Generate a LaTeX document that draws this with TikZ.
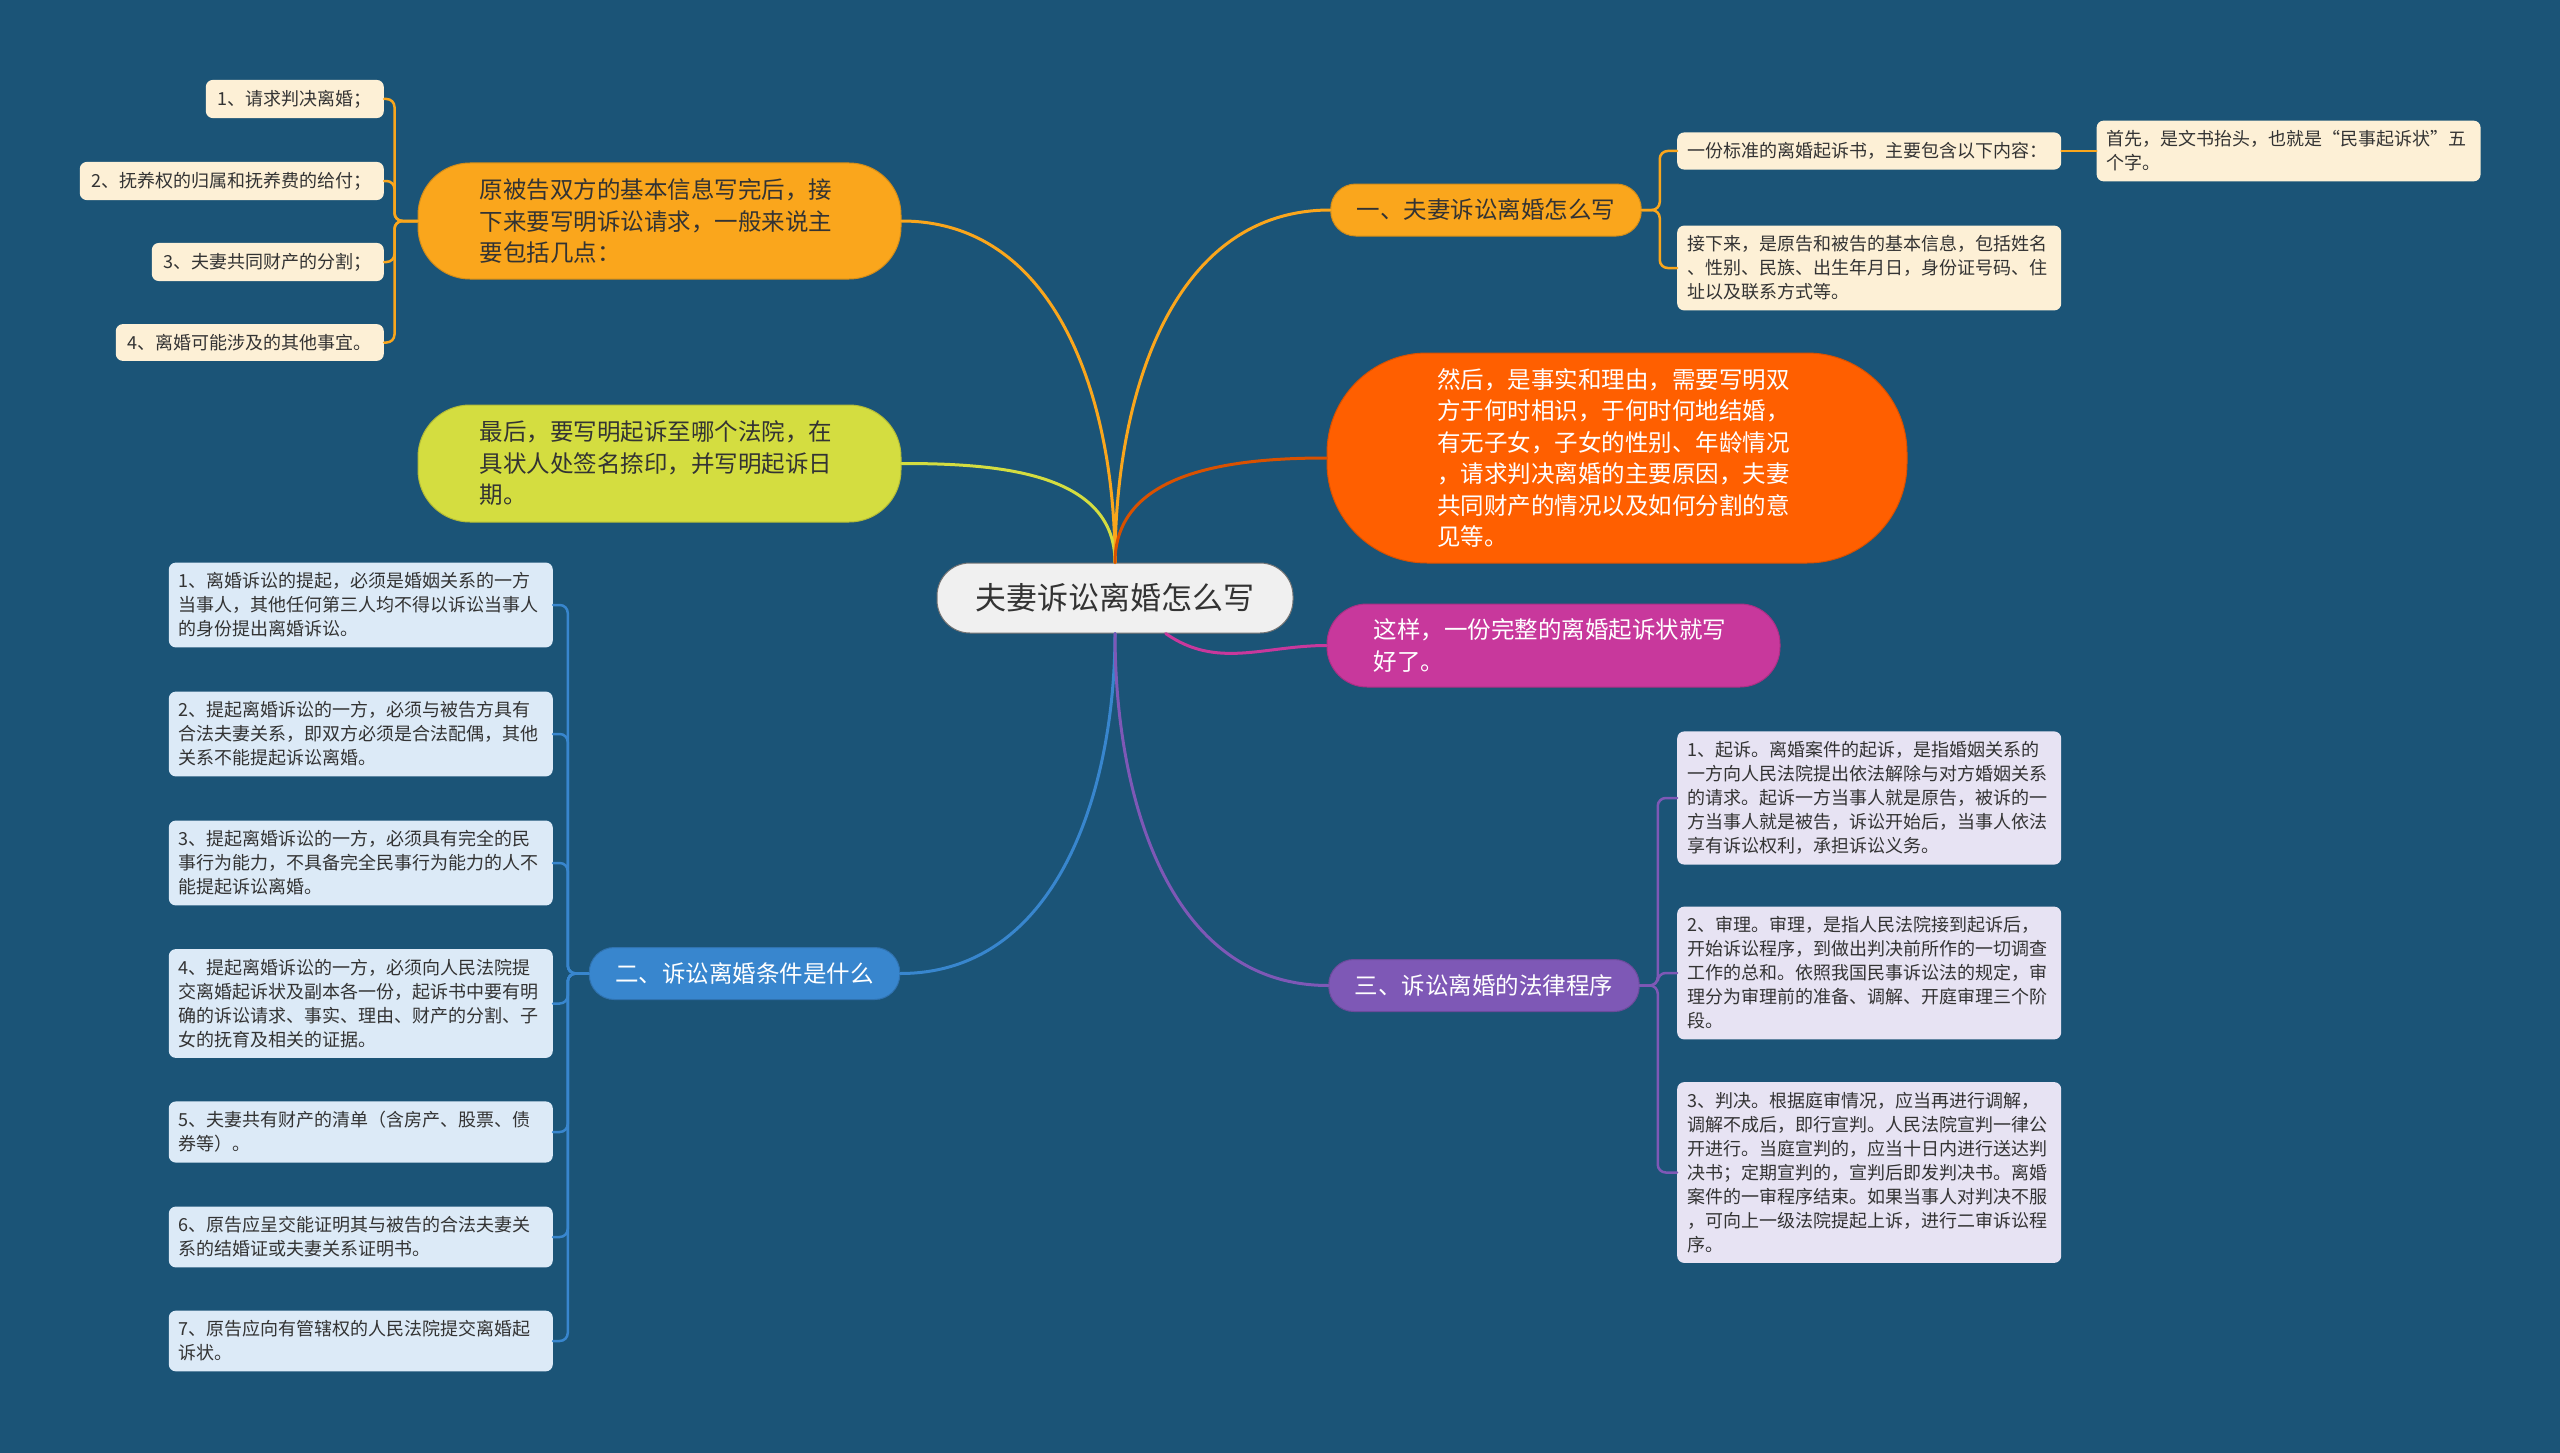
\documentclass[tikz,border=0pt]{standalone}
\usepackage{fontspec}
\setmainfont{Noto Sans CJK SC}
\usetikzlibrary{positioning}

\definecolor{bgblue}{RGB}{27,84,119}
\definecolor{amber}{RGB}{250,166,28}
\definecolor{lime}{RGB}{212,221,64}
\definecolor{flame}{RGB}{255,95,0}
\definecolor{berry}{RGB}{200,56,156}
\definecolor{sky}{RGB}{56,134,206}
\definecolor{grape}{RGB}{126,88,182}
\definecolor{cream}{RGB}{253,240,214}
\definecolor{ice}{RGB}{220,234,247}
\definecolor{lilac}{RGB}{231,227,243}
\definecolor{ink}{RGB}{51,51,51}

\begin{document}
\begin{tikzpicture}[x=1pt,y=-1pt,line cap=round,
		every node/.style={text=ink},
		bubble/.style={fill=#1,draw=#1!85!black,line width=1pt,text width=360pt,align=left,
			font=\fontsize{23.5}{31.5}\selectfont},
		topic/.style={fill=#1,draw=#1!85!black,line width=1pt,rounded corners=25pt,
			minimum height=52pt,inner xsep=26pt,font=\fontsize{23.5}{28}\selectfont},
		leaf/.style={fill=#1,rounded corners=7pt,inner xsep=10pt,inner ysep=10pt,
			font=\fontsize{18}{24}\selectfont},
		link/.style={draw=#1,line width=3pt},
		twig/.style={draw=#1,line width=2.5pt,rounded corners=8pt}]
	\tikzstyle{root}=[fill=black!6,draw=black!55,line width=1pt,rounded corners=33pt,
		minimum width=356pt,minimum height=70pt,font=\fontsize{31}{36}\selectfont]
	\tikzstyle{blocktext}=[text width=364pt,align=left]
	\fill[bgblue] (0,0) rectangle (2560,1453);
	\useasboundingbox (0,0) rectangle (2560,1453);

	\node[root] (C) at (1115,598) {夫妻诉讼离婚怎么写};

	% left side
	\node[bubble=amber,minimum width=483pt,minimum height=116pt,rounded corners=52pt]
		(A) at (659.5,221) {原被告双方的基本信息写完后，接\\下来要写明诉讼请求，一般来说主\\要包括几点：};
	\node[leaf=cream,anchor=east,inner xsep=12pt] (A1) at (384,99) {1、请求判决离婚；};
	\node[leaf=cream,anchor=east,inner xsep=12pt] (A2) at (384,181) {2、抚养权的归属和抚养费的给付；};
	\node[leaf=cream,anchor=east,inner xsep=12pt] (A3) at (384,262) {3、夫妻共同财产的分割；};
	\node[leaf=cream,anchor=east,inner xsep=12pt] (A4) at (384,342.5) {4、离婚可能涉及的其他事宜。};

	\node[bubble=lime,minimum width=483pt,minimum height=117pt,rounded corners=52pt]
		(Y) at (659.5,463.5) {最后，要写明起诉至哪个法院，在\\具状人处签名捺印，并写明起诉日\\期。};

	\node[topic=sky,text=white] (B) at (744.5,973.5) {二、诉讼离婚条件是什么};
	\node[leaf=ice,blocktext,anchor=east] (B1) at (553,605) {1、离婚诉讼的提起，必须是婚姻关系的一方\\当事人，其他任何第三人均不得以诉讼当事人\\的身份提出离婚诉讼。};
	\node[leaf=ice,blocktext,anchor=east] (B2) at (553,734) {2、提起离婚诉讼的一方，必须与被告方具有\\合法夫妻关系，即双方必须是合法配偶，其他\\关系不能提起诉讼离婚。};
	\node[leaf=ice,blocktext,anchor=east] (B3) at (553,863) {3、提起离婚诉讼的一方，必须具有完全的民\\事行为能力，不具备完全民事行为能力的人不\\能提起诉讼离婚。};
	\node[leaf=ice,blocktext,anchor=east] (B4) at (553,1003.5) {4、提起离婚诉讼的一方，必须向人民法院提\\交离婚起诉状及副本各一份，起诉书中要有明\\确的诉讼请求、事实、理由、财产的分割、子\\女的抚育及相关的证据。};
	\node[leaf=ice,blocktext,anchor=east] (B5) at (553,1132) {5、夫妻共有财产的清单（含房产、股票、债\\券等）。};
	\node[leaf=ice,blocktext,anchor=east] (B6) at (553,1237) {6、原告应呈交能证明其与被告的合法夫妻关\\系的结婚证或夫妻关系证明书。};
	\node[leaf=ice,blocktext,anchor=east] (B7) at (553,1341) {7、原告应向有管辖权的人民法院提交离婚起\\诉状。};

	% right side
	\node[topic=amber] (O) at (1486,210) {一、夫妻诉讼离婚怎么写};
	\node[leaf=cream,blocktext,anchor=west] (Oa) at (1677,151) {一份标准的离婚起诉书，主要包含以下内容：};
	\node[leaf=cream,blocktext,anchor=west] (Ob) at (1677,268) {接下来，是原告和被告的基本信息，包括姓名\\、性别、民族、出生年月日，身份证号码、住\\址以及联系方式等。};
	\node[leaf=cream,blocktext,right=35pt of Oa] (Oc) {首先，是文书抬头，也就是“民事起诉状”五\\个字。};

	\node[bubble=flame,text=white,minimum width=580pt,minimum height=210pt,rounded corners=100pt]
		(Rd) at (1617,458) {然后，是事实和理由，需要写明双\\方于何时相识，于何时何地结婚，\\有无子女，子女的性别、年龄情况\\，请求判决离婚的主要原因，夫妻\\共同财产的情况以及如何分割的意\\见等。};
	\node[bubble=berry,text=white,minimum width=453pt,minimum height=83pt,rounded corners=40pt]
		(M) at (1553.5,645.5) {这样，一份完整的离婚起诉状就写\\好了。};

	\node[topic=grape,text=white] (P) at (1484,985.5) {三、诉讼离婚的法律程序};
	\node[leaf=lilac,blocktext,anchor=west] (P1) at (1677,798) {1、起诉。离婚案件的起诉，是指婚姻关系的\\一方向人民法院提出依法解除与对方婚姻关系\\的请求。起诉一方当事人就是原告，被诉的一\\方当事人就是被告，诉讼开始后，当事人依法\\享有诉讼权利，承担诉讼义务。};
	\node[leaf=lilac,blocktext,anchor=west] (P2) at (1677,973) {2、审理。审理，是指人民法院接到起诉后，\\开始诉讼程序，到做出判决前所作的一切调查\\工作的总和。依照我国民事诉讼法的规定，审\\理分为审理前的准备、调解、开庭审理三个阶\\段。};
	\node[leaf=lilac,blocktext,anchor=west] (P3) at (1677,1172.5) {3、判决。根据庭审情况，应当再进行调解，\\调解不成后，即行宣判。人民法院宣判一律公\\开进行。当庭宣判的，应当十日内进行送达判\\决书；定期宣判的，宣判后即发判决书。离婚\\案件的一审程序结束。如果当事人对判决不服\\，可向上一级法院提起上诉，进行二审诉讼程\\序。};

	% main branches
	\path (C) edge[link=amber,out=90,in=0] (A)
	      (C) edge[link=lime,out=90,in=0] (Y)
	      (C) edge[link=amber,out=90,in=180] (O)
	      (C) edge[link=flame!85!black,out=90,in=180] (Rd)
	      (C) edge[link=berry,out=-35,in=180] (M)
	      (C) edge[link=sky,out=-90,in=0] (B)
	      (C) edge[link=grape,out=-90,in=180] (P);

	% sub branches
	\draw[twig=amber] (A.west) -- ++(-23,0) |- (A1.east);
	\draw[twig=amber] (A.west) -- ++(-23,0) |- (A2.east);
	\draw[twig=amber] (A.west) -- ++(-23,0) |- (A3.east);
	\draw[twig=amber] (A.west) -- ++(-23,0) |- (A4.east);
	\draw[twig=amber] (O.east) -- ++(18,0) |- (Oa.west);
	\draw[twig=amber] (O.east) -- ++(18,0) |- (Ob.west);
	\draw[twig=amber] (Oa.east) -- (Oc.west);
	\draw[twig=sky] (B.west) -- ++(-21,0) |- (B1.east);
	\draw[twig=sky] (B.west) -- ++(-21,0) |- (B2.east);
	\draw[twig=sky] (B.west) -- ++(-21,0) |- (B3.east);
	\draw[twig=sky] (B.west) -- ++(-21,0) |- (B4.east);
	\draw[twig=sky] (B.west) -- ++(-21,0) |- (B5.east);
	\draw[twig=sky] (B.west) -- ++(-21,0) |- (B6.east);
	\draw[twig=sky] (B.west) -- ++(-21,0) |- (B7.east);
	\draw[twig=grape] (P.east) -- ++(18,0) |- (P1.west);
	\draw[twig=grape] (P.east) -- ++(18,0) |- (P2.west);
	\draw[twig=grape] (P.east) -- ++(18,0) |- (P3.west);
\end{tikzpicture}
\end{document}
